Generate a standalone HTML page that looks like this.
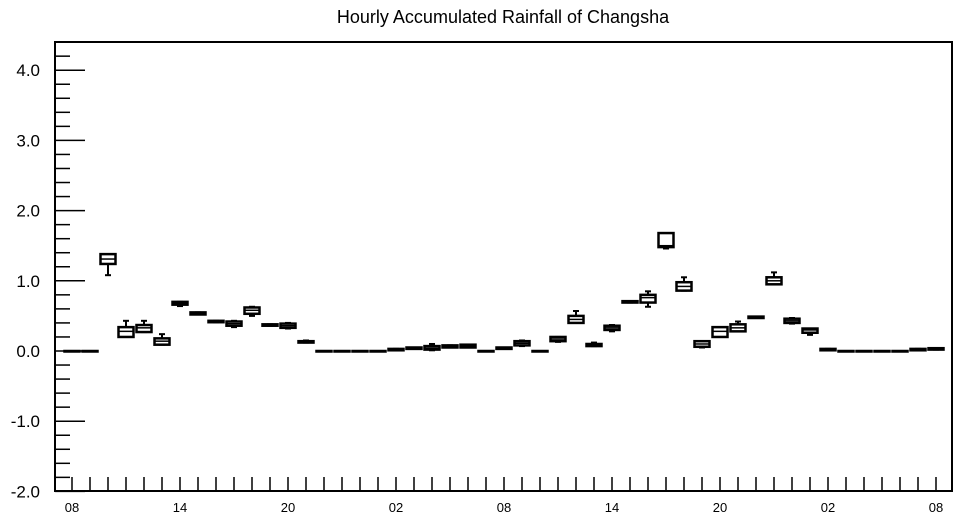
<!DOCTYPE html>
<html><head><meta charset="utf-8"><style>
body{margin:0;background:#fff;}
svg{display:block;font-family:"Liberation Sans",sans-serif;}
</style></head><body>
<svg id="chart" width="959" height="520">
<text x="503" y="23" font-size="18" text-anchor="middle">Hourly Accumulated Rainfall of Changsha</text>
<rect x="55" y="42" width="897" height="449" fill="none" stroke="#000" stroke-width="2"/>
<g id="axes"></g>
<g id="boxes"></g>
</svg>
<script>
const xLabels=["08","14","20","02","08","14","20","02","08"];
const yTicks=[-2,-1,0,1,2,3,4];
const yTickLabels=["-2.0","-1.0","0.0","1.0","2.0","3.0","4.0"];
const medians=[0,0,1.31,0.28,0.33,0.14,0.68,0.54,0.42,0.39,0.58,0.37,0.36,0.13,0,0,0,0,0.02,0.04,0.04,0.06,0.07,0,0.04,0.11,0,0.17,0.45,0.09,0.33,0.7,0.76,1.5,0.92,0.1,0.28,0.33,0.48,1.0,0.43,0.3,0.02,0,0,0,0,0.02,0.03];
const q1s=[0,0,1.24,0.2,0.27,0.09,0.66,0.52,0.41,0.36,0.53,0.36,0.33,0.12,0,0,0,0,0.01,0.03,0.02,0.05,0.05,0,0.03,0.08,0,0.14,0.4,0.07,0.3,0.69,0.69,1.48,0.86,0.06,0.2,0.28,0.47,0.95,0.4,0.26,0.01,0,0,0,0,0.01,0.02];
const q3s=[0,0,1.38,0.34,0.37,0.18,0.7,0.55,0.43,0.42,0.62,0.38,0.39,0.14,0,0,0,0,0.03,0.05,0.07,0.08,0.09,0,0.05,0.14,0,0.2,0.5,0.1,0.36,0.71,0.8,1.68,0.98,0.14,0.34,0.38,0.49,1.05,0.46,0.32,0.03,0,0,0,0,0.03,0.04];
const mins=[0,0,1.08,0.2,0.27,0.09,0.64,0.52,0.41,0.34,0.5,0.36,0.32,0.12,0,0,0,0,0.01,0.03,0.01,0.05,0.05,0,0.03,0.07,0,0.13,0.4,0.07,0.28,0.69,0.63,1.46,0.86,0.05,0.2,0.28,0.47,0.95,0.39,0.23,0.01,0,0,0,0,0.01,0.02];
const maxs=[0,0,1.38,0.43,0.43,0.24,0.7,0.55,0.43,0.43,0.63,0.38,0.4,0.15,0,0,0,0,0.03,0.05,0.1,0.08,0.09,0,0.05,0.15,0,0.2,0.57,0.12,0.37,0.71,0.85,1.68,1.05,0.14,0.34,0.42,0.49,1.12,0.47,0.32,0.03,0,0,0,0,0.03,0.04];
const NS="http://www.w3.org/2000/svg";
const y=v=>351-v*70.2;
const x=i=>72+18*i;
function mk(tag,attrs,parent){const e=document.createElementNS(NS,tag);for(const k in attrs)e.setAttribute(k,attrs[k]);parent.appendChild(e);return e;}
const ax=document.getElementById('axes');
for(let k=-10;k<=22;k++){const v=k*0.2;const major=k%5===0;
 const t=mk('line',{x1:55,x2:major?85:70,y1:y(v),y2:y(v),stroke:'#000','stroke-width':1.5},ax);
 
 }
yTicks.forEach((v,i)=>{const t=mk('text',{x:40,y:y(v)+6,'font-size':17,'text-anchor':'end'},ax);t.textContent=yTickLabels[i];
 
 });
for(let i=0;i<medians.length;i++){const t=mk('line',{x1:x(i),x2:x(i),y1:491,y2:477,stroke:'#000','stroke-width':1.5},ax);
 
 }
xLabels.forEach((s,i)=>{const t=mk('text',{x:x(i*6),y:512,'font-size':13,'text-anchor':'middle'},ax);t.textContent=s;
 
 });
const bx=document.getElementById('boxes');
medians.forEach((m,i)=>{
 const g=mk('g',{},bx);
 
 
 const cx=x(i);
 mk('line',{x1:cx,x2:cx,y1:y(maxs[i]),y2:y(mins[i]),stroke:'#000','stroke-width':2},g);
 mk('line',{x1:cx-3,x2:cx+3,y1:y(maxs[i]),y2:y(maxs[i]),stroke:'#000','stroke-width':2},g);
 mk('line',{x1:cx-3,x2:cx+3,y1:y(mins[i]),y2:y(mins[i]),stroke:'#000','stroke-width':2},g);
 const top=y(q3s[i]),bot=y(q1s[i]);
 mk('rect',{x:cx-7.5,y:top,width:15,height:Math.max(bot-top,0.5),fill:'#fff',stroke:'#000','stroke-width':2.5},g);
 mk('line',{x1:cx-7.5,x2:cx+7.5,y1:y(m),y2:y(m),stroke:'#000','stroke-width':1.5},g);
});
</script>
</body></html>
